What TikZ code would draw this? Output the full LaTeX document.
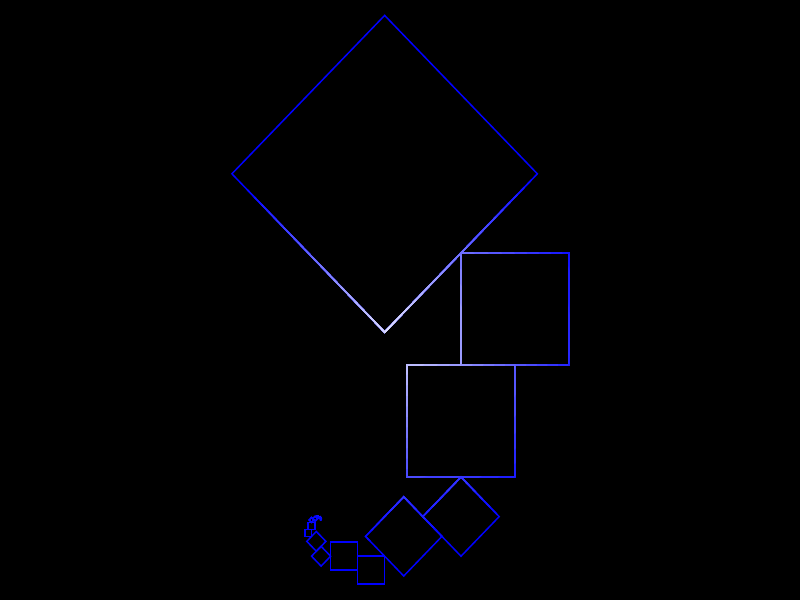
\documentclass[tikz,border=0pt]{standalone}
\tikzset{edge/.style={line width=0.85pt, line join=miter}}
\newcommand\sqpair{%
  \draw[edge] (0,0) rectangle (1,1);
  \draw[edge] (-0.5,1) rectangle (0.5,2);}
\newcommand\spiralrec[1]{%
  \ifnum#1>0
   \begin{scope}[shift={(0,2)},rotate=45,scale=0.5]
     \sqpair
     \expandafter\spiralrec\expandafter{\the\numexpr#1-1\relax}
   \end{scope}
  \fi}
\newcommand\wholefig{%
  \begin{scope}[cm={2.16,0,0,-2.24,(9.22,-5.06)}]
   \draw[edge] (-0.7071,-2.1213) -- (0.7071,-0.7071) -- (-0.7071,0.7071) -- (-2.1213,-0.7071) -- cycle;
   \sqpair
   \spiralrec{10}
  \end{scope}}
\begin{document}
\begin{tikzpicture}
\fill[black] (0,0) rectangle (16,-12);
\useasboundingbox (0,0) rectangle (16,-12);
\begin{scope}[color=blue] \wholefig \end{scope}
\foreach \k in {0,...,19}{
  \pgfmathsetmacro\rr{4.14*(1-\k/20)}
  \pgfmathsetmacro\ww{90*(\k+0.5)/20}
  \begin{scope}
   \clip (7.9,-6.7) circle (\rr);
   \begin{scope}[color=white!\ww!blue] \wholefig \end{scope}
  \end{scope}}
\end{tikzpicture}
\end{document}
